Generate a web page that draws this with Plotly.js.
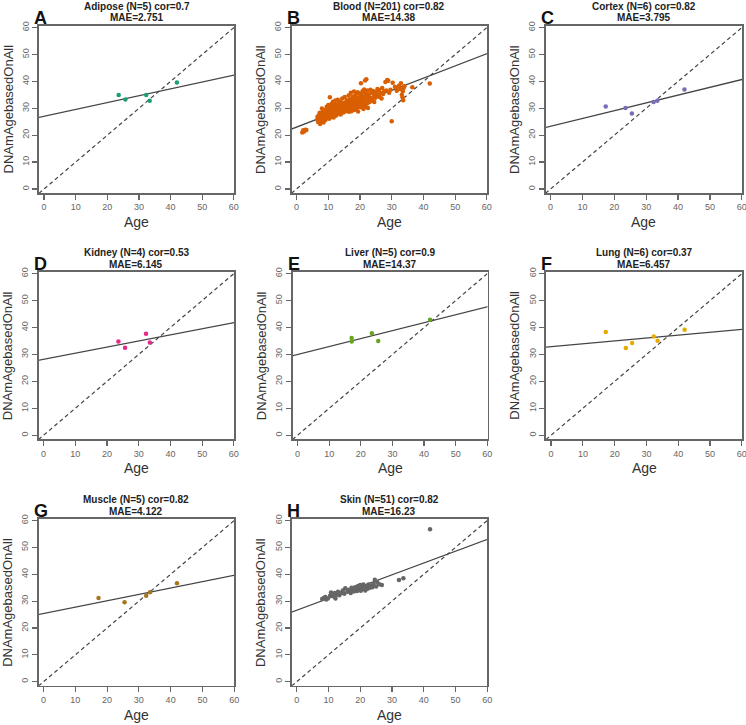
<!DOCTYPE html>
<html>
<head>
<meta charset="utf-8">
<script src="https://cdn.plot.ly/plotly-3.0.1.min.js"></script>
<style>
  body { margin: 0; background: #fff; }
  #chart { width: 746px; height: 725px; }
</style>
</head>
<body>
<div id="chart"></div>
<script>
'use strict'

// panel info
const tissues = ['Adipose', 'Blood', 'Cortex', 'Kidney', 'Liver', 'Lung', 'Muscle', 'Skin']
const letters = ['A', 'B', 'C', 'D', 'E', 'F', 'G', 'H']
const nSamples = [5, 201, 6, 4, 5, 6, 5, 51]
const corVals = ['0.7', '0.82', '0.82', '0.53', '0.9', '0.37', '0.82', '0.82']
const maeVals = ['2.751', '14.38', '3.795', '6.145', '14.37', '6.457', '4.122', '16.23']
const tickVals = [0, 10, 20, 30, 40, 50, 60]

// fitted line, read at age 0 and age 60
const fitAt0 = [27.0, 23.0, 23.3, 28.2, 30.0, 32.9, 25.4, 26.6]
const fitAt60 = [42.3, 50.3, 40.7, 41.8, 47.7, 39.3, 39.6, 53.0]

// samples
const adiposeAge = [23.6, 25.7, 32.3, 33.4, 42.0]
const adiposeDNAm = [34.9, 33.3, 34.9, 32.8, 39.6]

const bloodAge = [1.8, 2.1, 2.4, 2.8, 3.1,
  6.5, 6.6, 6.8, 7.0, 7.1, 7.2, 7.3, 7.4, 7.5, 7.6, 7.7, 7.8, 7.9, 8.0, 8.1, 8.2, 8.3, 8.4, 8.5, 8.6,
  8.8, 8.9, 9.0, 9.1, 9.2, 9.3, 9.4, 9.5, 9.6, 9.7, 9.8, 9.9, 10.0, 10.1, 10.2, 10.3, 10.4, 10.5, 10.6, 10.7,
  10.8, 10.9, 11.0, 11.1, 11.2, 11.3, 11.4, 11.5, 11.6, 11.7, 11.8, 11.9, 12.0,
  12.1, 12.2, 12.4, 12.5, 12.6, 12.8, 12.9, 13.0, 13.1, 13.3, 13.4, 13.5, 13.7, 13.8, 13.9, 14.0,
  14.2, 14.3, 14.4, 14.5, 14.7, 14.8, 14.9, 15.0, 15.1, 15.2, 15.4, 15.5, 15.6, 15.7, 15.8, 15.9,
  16.0, 16.1, 16.2, 16.3, 16.4, 16.5, 16.6, 16.7, 16.8, 16.9, 17.0, 17.1, 17.2, 17.3, 17.4, 17.5,
  17.6, 17.7, 17.8, 17.9, 18.0, 18.1, 18.2, 18.3, 18.4, 18.5, 18.6, 18.7, 18.8, 18.9, 19.0, 19.1,
  19.2, 19.3, 19.4, 19.5, 19.6, 19.7, 19.8, 19.9,
  20.0, 20.1, 20.2, 20.3, 20.4, 20.5, 20.6, 20.7, 20.8, 20.9, 21.0, 21.1, 21.2, 21.3, 21.4, 21.5,
  21.6, 21.7, 21.8, 21.9, 22.0, 22.1, 22.2, 22.3, 22.4, 22.5, 22.7, 22.9, 23.1, 23.3, 23.5, 23.7,
  23.9, 24.1, 24.3, 24.5, 24.7, 24.9,
  25.1, 25.3, 25.5, 25.8, 26.0, 26.2, 26.5, 26.8, 27.0, 27.3, 27.6, 28.0, 28.3, 28.6, 28.9, 29.2,
  29.6, 30.0, 30.3,
  31.0, 31.6, 32.0, 32.3, 32.6, 32.9, 33.2, 33.4, 33.6, 33.8, 34.0, 33.5, 36.5, 42.0]
const bloodDNAm = [21.0, 21.8, 21.4, 22.0, 21.9,
  25.8, 26.9, 24.9, 27.4, 25.3, 26.1, 28.3, 24.2, 26.7, 25.6, 27.8, 25.0, 26.3, 29.9, 27.1, 25.9, 28.6, 26.6, 24.7, 27.5,
  26.2, 28.9, 27.2, 25.6, 29.5, 26.9, 28.1, 30.6, 27.6, 26.4, 29.0, 28.4, 31.2, 27.0, 29.8, 26.1, 28.7, 34.1, 30.2, 27.8,
  29.3, 26.8, 31.6, 28.3, 30.7, 27.4, 29.6, 32.4, 28.9, 26.6, 30.1, 31.9, 28.2,
  30.4, 32.9, 29.1, 27.3, 31.3, 30.0, 28.6, 33.2, 29.7, 31.8, 28.0, 30.9, 29.3, 32.3, 27.7, 30.6,
  31.5, 28.8, 33.6, 29.9, 30.3, 28.4, 32.0, 31.1, 29.2, 34.2, 30.8, 28.9, 31.9, 29.6, 33.0, 30.2,
  31.4, 29.0, 32.6, 30.5, 34.8, 28.7, 31.8, 30.0, 33.4, 29.5, 32.1, 35.8, 30.9, 28.9, 33.0, 31.2,
  29.8, 34.4, 31.6, 30.3, 32.8, 36.2, 29.4, 31.0, 33.9, 30.6, 32.3, 35.1, 29.9, 31.7, 33.5, 30.2,
  32.0, 36.0, 28.8, 31.3, 34.0, 30.7, 32.6, 35.4,
  31.9, 33.8, 30.4, 39.3, 32.5, 35.0, 30.9, 33.1, 36.3, 31.5, 34.2, 29.7, 32.8, 37.0, 31.2, 33.6,
  40.3, 35.5, 30.6, 33.0, 40.8, 34.7, 31.8, 36.6, 33.3, 30.1, 35.2, 32.2, 34.0, 36.9, 32.7, 35.8,
  33.5, 36.4, 34.4, 32.3, 35.6, 33.9,
  36.1, 34.6, 37.2, 35.0, 36.8, 34.2, 35.7, 33.6, 37.5, 35.3, 36.3, 39.8, 36.6, 40.5, 40.2, 35.8,
  36.9, 25.2, 39.5,
  38.0, 36.5, 37.8, 38.4, 37.2, 39.3, 35.0, 34.1, 33.0, 37.6, 38.2, 36.3, 37.8, 39.2]

const cortexAge = [17.3, 23.5, 25.5, 32.3, 33.5, 42.0]
const cortexDNAm = [30.7, 30.1, 28.1, 32.3, 32.8, 37.0]

const kidneyAge = [23.6, 25.7, 32.3, 33.5]
const kidneyDNAm = [34.8, 32.5, 37.7, 34.4]

const liverAge = [17.1, 17.1, 23.5, 25.5, 41.9]
const liverDNAm = [36.1, 34.8, 37.9, 35.0, 42.9]

const lungAge = [17.2, 23.5, 25.5, 32.3, 33.5, 42.0]
const lungDNAm = [38.3, 32.4, 34.2, 36.7, 35.1, 39.2]

const muscleAge = [17.3, 25.5, 32.3, 33.5, 42.0]
const muscleDNAm = [31.2, 29.6, 32.0, 33.3, 36.7]

const skinAge = [8.0, 8.5, 9.0, 9.3, 9.8, 10.5, 10.8, 11.0, 11.5, 12.0,
  12.2, 12.5, 13.0, 13.4, 14.0, 14.5, 15.0, 15.3, 16.0, 16.5,
  17.0, 17.3, 17.8, 18.0, 18.4, 18.8, 19.0, 19.3, 19.6, 20.0,
  20.2, 20.5, 20.8, 21.0, 21.3, 21.6, 22.0, 22.3, 22.6, 23.0,
  23.3, 23.8, 24.2, 24.6, 25.0, 25.4, 26.0, 26.8, 32.2, 33.6, 42.0]
const skinDNAm = [30.8, 31.2, 31.5, 30.6, 31.0, 32.0, 33.2, 32.5, 31.8, 33.0,
  31.0, 32.4, 33.5, 32.2, 33.0, 34.0, 32.8, 34.8, 33.5, 34.2,
  33.0, 35.0, 34.0, 33.6, 35.2, 34.5, 33.8, 35.6, 34.2, 36.0,
  33.9, 35.0, 34.5, 36.2, 35.3, 34.0, 35.5, 34.6, 36.2, 35.0,
  35.8, 35.2, 36.4, 38.0, 35.5, 37.0, 36.3, 36.0, 37.9, 38.5, 56.8]

const ages = [adiposeAge, bloodAge, cortexAge, kidneyAge, liverAge, lungAge, muscleAge, skinAge]
const dnams = [adiposeDNAm, bloodDNAm, cortexDNAm, kidneyDNAm, liverDNAm, lungDNAm, muscleDNAm, skinDNAm]
const colors = ['#1B9E77', '#D95F02', '#7570B3', '#E7298A', '#66A61E', '#E6AB02', '#A6761D', '#666666']

// plot boxes in pixels (left, right, top, bottom)
const W = 746, H = 725
const boxes = [
  [39, 234, 26, 193], [291.5, 487, 26, 193], [545.5, 742, 26, 193],
  [38.5, 234, 272, 439.3], [292.5, 487.5, 272, 439.3], [546, 742, 272, 439.3],
  [38.5, 234.3, 519, 685.7], [291.7, 487.3, 519, 685.7]
]
const font = 'Liberation Sans, Arial, sans-serif'
const px = v => v / W
const py = v => 1 - v / H

let traces = []
let layout = {
  width: W, height: H,
  margin: {l: 0, r: 0, t: 0, b: 0},
  paper_bgcolor: '#fff', plot_bgcolor: '#fff',
  showlegend: false,
  font: {family: font},
  annotations: []
}

for (let i = 0; i < tissues.length; i++) {
  let sfx = i === 0 ? '' : String(i + 1)
  let xa = 'x' + sfx, ya = 'y' + sfx
  let b = boxes[i]
  let slope = (fitAt60[i] - fitAt0[i]) / 60

  traces.push({
    x: [-5, 65], y: [-5, 65], xaxis: xa, yaxis: ya,
    mode: 'lines', line: {color: '#444', width: 1.2, dash: '4px,3px'},
    hoverinfo: 'skip'
  })
  traces.push({
    x: [-5, 65], y: [fitAt0[i] - 5 * slope, fitAt0[i] + 65 * slope], xaxis: xa, yaxis: ya,
    mode: 'lines', line: {color: '#444', width: 1.3},
    hoverinfo: 'skip'
  })
  traces.push({
    x: ages[i], y: dnams[i], xaxis: xa, yaxis: ya,
    mode: 'markers', marker: {color: colors[i], size: 4.5}
  })

  let axBase = {
    tickvals: tickVals, ticks: 'outside', ticklen: 5, tickwidth: 1.2, tickcolor: '#666',
    showline: true, mirror: true, linecolor: '#666', linewidth: 1.6,
    showgrid: false, zeroline: false, fixedrange: true, ticklabeloverflow: 'allow',
    tickfont: {size: 9, color: '#666', family: font}
  }
  layout['xaxis' + sfx] = Object.assign({}, axBase, {
    domain: [px(b[0]), px(b[1])], range: [-1.6, 60.05], anchor: ya
  })
  layout['yaxis' + sfx] = Object.assign({}, axBase, {
    domain: [py(b[3]), py(b[2])], range: [-1.5, 60.6], anchor: xa, tickangle: -90
  })

  let cx = (b[0] + b[1]) / 2, cy = (b[2] + b[3]) / 2
  layout.annotations.push({
    xref: 'paper', yref: 'paper', x: px(cx), y: py(b[2] - 19.5),
    xanchor: 'center', yanchor: 'middle', showarrow: false,
    text: '<b>' + tissues[i] + ' (N=' + nSamples[i] + ') cor=' + corVals[i] + '</b>',
    font: {size: 10, color: '#222'}
  })
  layout.annotations.push({
    xref: 'paper', yref: 'paper', x: px(cx), y: py(b[2] - 8),
    xanchor: 'center', yanchor: 'middle', showarrow: false,
    text: '<b>MAE=' + maeVals[i] + '</b>',
    font: {size: 10, color: '#222'}
  })
  layout.annotations.push({
    xref: 'paper', yref: 'paper', x: px(b[0] - 7), y: py(b[2] - 8),
    xanchor: 'left', yanchor: 'middle', showarrow: false,
    text: '<b>' + letters[i] + '</b>',
    font: {size: 18, color: '#111'}
  })
  layout.annotations.push({
    xref: 'paper', yref: 'paper', x: px(cx), y: py(b[3] + 29),
    xanchor: 'center', yanchor: 'middle', showarrow: false,
    text: 'Age', font: {size: 14, color: '#333'}
  })
  layout.annotations.push({
    xref: 'paper', yref: 'paper', x: px(b[0] - 31), y: py(cy),
    xanchor: 'center', yanchor: 'middle', showarrow: false, textangle: -90,
    text: 'DNAmAgebasedOnAll', font: {size: 13, color: '#333'}
  })
}

Plotly.newPlot('chart', traces, layout, {staticPlot: true})
</script>
</body>
</html>
